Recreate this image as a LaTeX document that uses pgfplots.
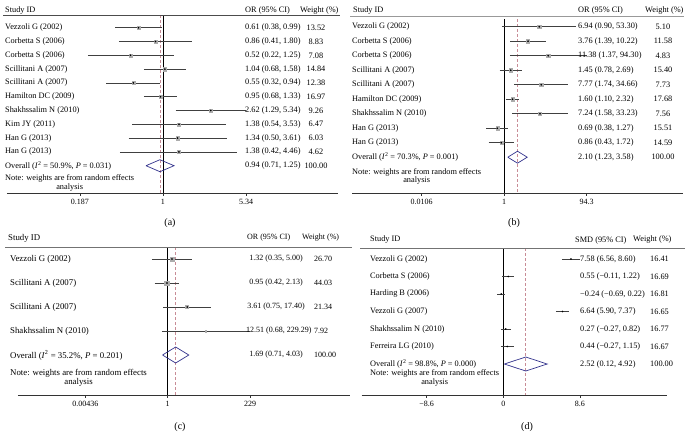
\documentclass[border=0pt]{standalone}
\usepackage{fontspec}
\setmainfont{Liberation Serif}
\usepackage{pgfplots}
\pgfplotsset{compat=1.18}
\definecolor{dia}{RGB}{50,50,140}
\definecolor{dsh}{RGB}{200,140,150}
\newcommand\fs{\fontsize{8.3}{8.7}\selectfont}
\pgfplotsset{fp/.style={scale only axis, clip=false, axis y line=none, axis x line*=bottom,
  enlargelimits=false, unbounded coords=jump, tick align=outside, major tick length=2.5pt,
  xminorticks=false, axis line style={black!80, line width=0.7pt}, tick style={black!80, line width=0.6pt},
  xticklabel style={font=\fontsize{8}{9}\selectfont}},
  ci/.style={black!75, line width=0.6pt, mark=none},
  sq/.style={only marks, mark=square*, mark size=1.6pt, mark options={fill=gray!65, draw=gray!65}},
  dt/.style={only marks, mark=*, mark size=0.6pt, black},
  nul/.style={black, line width=0.6pt},
  dsl/.style={dsh, dash pattern=on 3pt off 2pt, line width=0.6pt},
  dm/.style={dia, line width=0.7pt}}
\newcommand\Tw[2]{\node[anchor=west,inner sep=0pt,font=\fs] at (#1) {#2};}
\newcommand\Tc[2]{\node[inner sep=0pt,font=\fs] at (#1) {#2};}
\begin{document}
\begin{tikzpicture}
\path[use as bounding box] (0pt,0pt) rectangle (689pt,-437pt);
% ---------------- (a)
\begin{axis}[fp, at={(7pt,-193pt)}, anchor=south west, width=331pt, height=178pt,
  xmode=log, xmin=0.04306, xmax=34.07, ymin=-193, ymax=-15,
  xtick={0.187,1,5.34}, xticklabels={0.187,1,5.34}]
\addplot[nul] coordinates {(1,-15) (1,-193)};
\addplot[dsl] coordinates {(0.94,-15) (0.94,-193)};
\addplot[ci] coordinates {(0.38,-27.7)(0.99,-27.7) (1,nan) (0.41,-41.5)(1.80,-41.5) (1,nan)
 (0.22,-55.3)(1.25,-55.3) (1,nan) (0.68,-69.1)(1.58,-69.1) (1,nan) (0.32,-82.9)(0.94,-82.9) (1,nan)
 (0.68,-96.7)(1.33,-96.7) (1,nan) (1.29,-110.5)(5.34,-110.5) (1,nan) (0.54,-124.3)(3.53,-124.3) (1,nan)
 (0.50,-138.1)(3.61,-138.1) (1,nan) (0.42,-151.9)(4.46,-151.9)};
\addplot[sq] coordinates {(0.61,-27.7)(0.86,-41.5)(0.52,-55.3)(1.04,-69.1)(0.55,-82.9)(0.95,-96.7)(2.62,-110.5)(1.38,-124.3)(1.34,-138.1)(1.38,-151.9)};
\addplot[dt] coordinates {(0.61,-27.7)(0.86,-41.5)(0.52,-55.3)(1.04,-69.1)(0.55,-82.9)(0.95,-96.7)(2.62,-110.5)(1.38,-124.3)(1.34,-138.1)(1.38,-151.9)};
\addplot[dm] coordinates {(0.71,-165.7)(0.94,-159.7)(1.25,-165.7)(0.94,-171.7)(0.71,-165.7)};
\end{axis}
% ---------------- (b)
\begin{axis}[fp, at={(352pt,-193pt)}, anchor=south west, width=331pt, height=178pt,
  xmode=log, xmin=2.30e-4, xmax=19170, ymin=-193, ymax=-15,
  xtick={0.0106,1,94.3}, xticklabels={0.0106,1,94.3}]
\addplot[nul] coordinates {(1,-19) (1,-193)};
\addplot[dsl] coordinates {(2.10,-19) (2.10,-193)};
\addplot[ci] coordinates {(0.90,-26.7)(53.30,-26.7) (1,nan) (1.39,-41.2)(10.22,-41.2) (1,nan)
 (1.37,-55.7)(94.30,-55.7) (1,nan) (0.78,-70.2)(2.69,-70.2) (1,nan) (1.74,-84.7)(34.66,-84.7) (1,nan)
 (1.10,-99.2)(2.32,-99.2) (1,nan) (1.58,-113.7)(33.23,-113.7) (1,nan) (0.38,-128.2)(1.27,-128.2) (1,nan)
 (0.43,-142.7)(1.72,-142.7)};
\addplot[sq] coordinates {(6.94,-26.7)(3.76,-41.2)(11.38,-55.7)(1.45,-70.2)(7.77,-84.7)(1.60,-99.2)(7.24,-113.7)(0.69,-128.2)(0.86,-142.7)};
\addplot[dt] coordinates {(6.94,-26.7)(3.76,-41.2)(11.38,-55.7)(1.45,-70.2)(7.77,-84.7)(1.60,-99.2)(7.24,-113.7)(0.69,-128.2)(0.86,-142.7)};
\addplot[dm] coordinates {(1.23,-157.2)(2.10,-151.2)(3.58,-157.2)(2.10,-163.2)(1.23,-157.2)};
\end{axis}
% ---------------- (c)
\begin{axis}[fp, at={(18pt,-395pt)}, anchor=south west, width=332pt, height=148pt,
  xmode=log, xmin=5.12e-5, xmax=1.68e5, ymin=-395, ymax=-247,
  xtick={0.00436,1,229}, xticklabels={0.00436,1,229}]
\addplot[nul] coordinates {(1,-247) (1,-395)};
\addplot[dsl] coordinates {(1.69,-247) (1.69,-395)};
\addplot[ci] coordinates {(0.35,-259)(5.00,-259) (1,nan) (0.42,-283)(2.13,-283) (1,nan)
 (0.75,-307)(17.40,-307) (1,nan) (0.68,-331)(229.29,-331)};
\addplot[only marks, mark=square*, mark options={fill=gray!65, draw=gray!65}, mark size=1.8pt] coordinates {(1.32,-259)};
\addplot[only marks, mark=square*, mark options={fill=gray!65, draw=gray!65}, mark size=2.3pt] coordinates {(0.95,-283)};
\addplot[only marks, mark=square*, mark options={fill=gray!65, draw=gray!65}, mark size=1.5pt] coordinates {(3.61,-307)};
\addplot[only marks, mark=square*, mark options={fill=gray!65, draw=gray!65}, mark size=0.7pt] coordinates {(12.51,-331)};
\addplot[dt] coordinates {(1.32,-259)(0.95,-283)(3.61,-307)};
\addplot[dm] coordinates {(0.71,-355)(1.69,-347)(4.03,-355)(1.69,-363)(0.71,-355)};
\end{axis}
% ---------------- (d)
\begin{axis}[fp, at={(361.7pt,-395pt)}, anchor=south west, width=305pt, height=147pt,
  xmin=-15.87, xmax=18.32, ymin=-395, ymax=-248,
  xtick={-8.6,0,8.6}, xticklabels={−8.6,0,8.6}]
\addplot[nul] coordinates {(0,-248) (0,-395)};
\addplot[dsl] coordinates {(2.52,-248) (2.52,-395)};
\addplot[ci] coordinates {(6.56,-259)(8.60,-259) (0,nan) (-0.11,-276.5)(1.22,-276.5) (0,nan)
 (-0.69,-294)(0.22,-294) (0,nan) (5.90,-311.5)(7.37,-311.5) (0,nan) (-0.27,-329)(0.82,-329) (0,nan)
 (-0.27,-346.5)(1.15,-346.5)};
\addplot[dt] coordinates {(7.58,-259)(0.55,-276.5)(-0.24,-294)(6.64,-311.5)(0.27,-329)(0.44,-346.5)};
\addplot[dm] coordinates {(0.12,-364)(2.52,-357)(4.92,-364)(2.52,-371)(0.12,-364)};
\end{axis}
% ---------------- texts
\begin{scope}[x=1pt,y=-1pt]
% header rules
\draw[black!70, line width=0.6pt] (3,15) -- (340,15);
\draw[black!40, line width=0.6pt] (350,16) -- (684,16);
\draw[black!55, line width=0.8pt] (5,247) -- (352,247);
\draw[black!55, line width=1pt] (360,248) -- (685,248);
% (a)
\Tw{5,11}{Study ID}\Tw{245,11}{OR (95\% CI)}\Tw{300,11}{Weight (\%)}
\Tw{5,27.7}{Vezzoli G (2002)}\Tw{245,27.7}{0.61 (0.38, 0.99)}\Tc{316,27.7}{13.52}
\Tw{5,41.5}{Corbetta S (2006)}\Tw{245,41.5}{0.86 (0.41, 1.80)}\Tc{316,41.5}{8.83}
\Tw{5,55.3}{Corbetta S (2006)}\Tw{245,55.3}{0.52 (0.22, 1.25)}\Tc{316,55.3}{7.08}
\Tw{5,69.1}{Scillitani A (2007)}\Tw{245,69.1}{1.04 (0.68, 1.58)}\Tc{316,69.1}{14.84}
\Tw{5,82.9}{Scillitani A (2007)}\Tw{245,82.9}{0.55 (0.32, 0.94)}\Tc{316,82.9}{12.38}
\Tw{5,96.7}{Hamilton DC (2009)}\Tw{245,96.7}{0.95 (0.68, 1.33)}\Tc{316,96.7}{16.97}
\Tw{5,110.5}{Shakhssalim N (2010)}\Tw{245,110.5}{2.62 (1.29, 5.34)}\Tc{316,110.5}{9.26}
\Tw{5,124.3}{Kim JY (2011)}\Tw{245,124.3}{1.38 (0.54, 3.53)}\Tc{316,124.3}{6.47}
\Tw{5,138.1}{Han G (2013)}\Tw{245,138.1}{1.34 (0.50, 3.61)}\Tc{316,138.1}{6.03}
\Tw{5,151.9}{Han G (2013)}\Tw{245,151.9}{1.38 (0.42, 4.46)}\Tc{316,151.9}{4.62}
\Tw{5,165.7}{Overall (\textit{I}\textsuperscript{2} = 50.9\%, \textit{P} = 0.031)}\Tw{245,165.7}{0.94 (0.71, 1.25)}\Tc{316,165.7}{100.00}
\node[anchor=west,inner sep=0pt,font=\fs,align=center] at (5,183) {Note: weights are from random effects\\analysis};
\node[font=\fontsize{10}{12}\selectfont] at (170,223) {(a)};
% (b)
\Tw{353,11}{Study ID}\Tw{578,11}{OR (95\% CI)}\Tw{645,11}{Weight (\%)}
\Tw{352,26.7}{Vezzoli G (2002)}\Tw{578,26.7}{6.94 (0.90, 53.30)}\Tc{663,26.7}{5.10}
\Tw{352,41.2}{Corbetta S (2006)}\Tw{578,41.2}{3.76 (1.39, 10.22)}\Tc{663,41.2}{11.58}
\Tw{352,55.7}{Corbetta S (2006)}\Tw{578,55.7}{11.38 (1.37, 94.30)}\Tc{663,55.7}{4.83}
\Tw{352,70.2}{Scillitani A (2007)}\Tw{578,70.2}{1.45 (0.78, 2.69)}\Tc{663,70.2}{15.40}
\Tw{352,84.7}{Scillitani A (2007)}\Tw{578,84.7}{7.77 (1.74, 34.66)}\Tc{663,84.7}{7.73}
\Tw{352,99.2}{Hamilton DC (2009)}\Tw{578,99.2}{1.60 (1.10, 2.32)}\Tc{663,99.2}{17.68}
\Tw{352,113.7}{Shakhssalim N (2010)}\Tw{578,113.7}{7.24 (1.58, 33.23)}\Tc{663,113.7}{7.56}
\Tw{352,128.2}{Han G (2013)}\Tw{578,128.2}{0.69 (0.38, 1.27)}\Tc{663,128.2}{15.51}
\Tw{352,142.7}{Han G (2013)}\Tw{578,142.7}{0.86 (0.43, 1.72)}\Tc{663,142.7}{14.59}
\Tw{352,157.2}{Overall (\textit{I}\textsuperscript{2} = 70.3\%, \textit{P} = 0.001)}\Tw{578,157.2}{2.10 (1.23, 3.58)}\Tc{663,157.2}{100.00}
\node[anchor=west,inner sep=0pt,font=\fs,align=center] at (352,176.5) {Note: weights are from random effects\\analysis};
\node[font=\fontsize{10}{12}\selectfont] at (514,223) {(b)};
% (c)
\begin{scope}[every node/.append style={font=\fontsize{8.8}{9.2}\selectfont}]
\node[anchor=west,inner sep=0pt] at (8,238) {Study ID};
\node[anchor=west,inner sep=0pt] at (10,259) {Vezzoli G (2002)};
\node[anchor=west,inner sep=0pt] at (10,283) {Scillitani A (2007)};
\node[anchor=west,inner sep=0pt] at (10,307) {Scillitani A (2007)};
\node[anchor=west,inner sep=0pt] at (10,331) {Shakhssalim N (2010)};
\node[anchor=west,inner sep=0pt] at (10,355) {Overall (\textit{I}\textsuperscript{2} = 35.2\%, \textit{P} = 0.201)};
\node[anchor=west,inner sep=0pt,align=center] at (10,378) {Note: weights are from random effects\\analysis};
\end{scope}
\begin{scope}[every node/.append style={font=\fontsize{8}{9}\selectfont}]
\node[anchor=west,inner sep=0pt] at (247,238) {OR (95\% CI)};
\node[anchor=west,inner sep=0pt] at (302,238) {Weight (\%)};
\node[inner sep=0pt] at (276,259) {1.32 (0.35, 5.00)};
\node[anchor=west,inner sep=0pt] at (314,259) {26.70};
\node[inner sep=0pt] at (276,283) {0.95 (0.42, 2.13)};
\node[anchor=west,inner sep=0pt] at (314,283) {44.03};
\node[inner sep=0pt] at (276,307) {3.61 (0.75, 17.40)};
\node[anchor=west,inner sep=0pt] at (314,307) {21.34};
\node[anchor=west,inner sep=0pt] at (246,331) {12.51 (0.68, 229.29)};
\node[anchor=west,inner sep=0pt] at (314,331) {7.92};
\node[inner sep=0pt] at (276,355) {1.69 (0.71, 4.03)};
\node[anchor=west,inner sep=0pt] at (314,355) {100.00};
\end{scope}
\node[font=\fontsize{10}{12}\selectfont] at (180,426.7) {(c)};
% (d)
\Tw{370,240}{Study ID}\Tw{575,240}{SMD (95\% CI)}\Tw{633,240}{Weight (\%)}
\Tw{370,259}{Vezzoli G (2002)}\Tw{580,259}{7.58 (6.56, 8.60)}\Tw{650,259}{16.41}
\Tw{370,276.5}{Corbetta S (2006)}\Tw{580,276.5}{0.55 (−0.11, 1.22)}\Tw{650,276.5}{16.69}
\Tw{370,294}{Harding B (2006)}\Tw{580,294}{−0.24 (−0.69, 0.22)}\Tw{650,294}{16.81}
\Tw{370,311.5}{Vezzoli G (2007)}\Tw{580,311.5}{6.64 (5.90, 7.37)}\Tw{650,311.5}{16.65}
\Tw{370,329}{Shakhssalim N (2010)}\Tw{580,329}{0.27 (−0.27, 0.82)}\Tw{650,329}{16.77}
\Tw{370,346.5}{Ferreira LG (2010)}\Tw{580,346.5}{0.44 (−0.27, 1.15)}\Tw{650,346.5}{16.67}
\Tw{370,364}{Overall (\textit{I}\textsuperscript{2} = 98.8\%, \textit{P} = 0.000)}\Tw{580,364}{2.52 (0.12, 4.92)}\Tw{650,364}{100.00}
\node[anchor=west,inner sep=0pt,font=\fs,align=center] at (370,378) {Note: weights are from random effects\\analysis};
\node[font=\fontsize{10}{12}\selectfont] at (527,426.7) {(d)};
\end{scope}
\end{tikzpicture}
\end{document}
